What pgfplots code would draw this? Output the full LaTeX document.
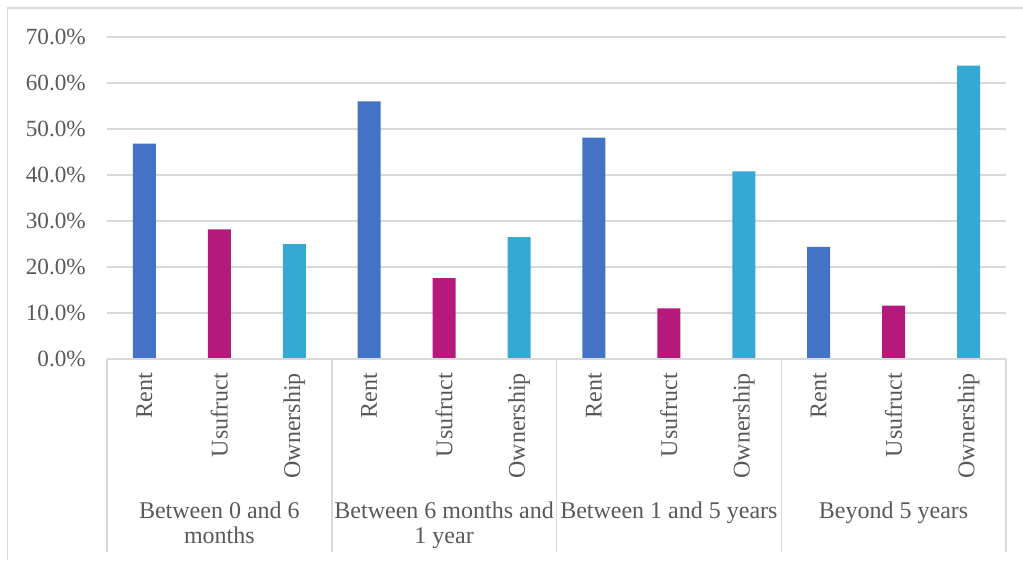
\documentclass[border=0pt]{standalone}
\usepackage{pgfplots}
\pgfplotsset{compat=1.18}
\usepackage{fontspec}
\setmainfont{Liberation Serif}
\definecolor{rentc}{RGB}{68,114,196}
\definecolor{usuc}{RGB}{181,25,123}
\definecolor{ownc}{RGB}{53,169,212}
\definecolor{gridc}{RGB}{217,217,217}
\definecolor{txtc}{RGB}{89,89,89}
\begin{document}
\begin{tikzpicture}
\useasboundingbox (-107pt,-201pt) rectangle (916pt,359pt);
\draw[gridc, line width=1.5pt] (-99.5pt,-201pt) -- (-99.5pt,351pt) -- (916pt,351pt);
\begin{axis}[
  at={(0pt,0pt)}, anchor=south west,
  scale only axis, width=899pt, height=322pt,
  xmin=-0.5, xmax=11.5, ymin=0, ymax=70,
  ybar, bar width=23pt, bar shift=0pt,
  axis line style={draw=none},
  tick style={draw=none},
  major tick length=0pt,
  ymajorgrids, grid style={color=gridc, line width=1.5pt},
  ytick={0,10,...,70},
  yticklabel={\pgfmathprintnumber[fixed,fixed zerofill,precision=1]{\tick}\%},
  /pgf/number format/assume math mode=true,
  yticklabel style={anchor=east, inner sep=0pt, xshift=-21pt, font=\fontsize{23.2}{27}\selectfont, text=txtc},
  xtick={0,...,11},
  xticklabels={Rent,Usufruct,Ownership,Rent,Usufruct,Ownership,Rent,Usufruct,Ownership,Rent,Usufruct,Ownership},
  xticklabel style={rotate=90, anchor=east, inner sep=0pt, xshift=-14pt, font=\fontsize{24}{28}\selectfont, text=txtc},
  clip=false,
]
\addplot[draw=none, fill=rentc] coordinates {(0,46.8) (3,56.0) (6,48.1) (9,24.4)};
\addplot[draw=none, fill=usuc] coordinates {(1,28.2) (4,17.6) (7,11.0) (10,11.6)};
\addplot[draw=none, fill=ownc] coordinates {(2,25.0) (5,26.5) (8,40.8) (11,63.8)};
\draw[gridc, line width=1.5pt] (axis cs:-0.5,0) -- (axis cs:11.5,0);
\pgfplotsinvokeforeach{-0.5,2.5,5.5,8.5,11.5}{
  \draw[gridc, line width=1.5pt] (axis cs:#1,0) -- ([yshift=-193pt]axis cs:#1,0);
}
\begin{scope}[every node/.style={anchor=base, inner sep=0pt, font=\fontsize{24}{28}\selectfont, text=txtc}]
\node at ([yshift=-159pt]axis cs:1,0) {Between 0 and 6};
\node at ([yshift=-184pt]axis cs:1,0) {months};
\node at ([yshift=-159pt]axis cs:4,0) {Between 6 months and};
\node at ([yshift=-184pt]axis cs:4,0) {1 year};
\node at ([yshift=-159pt]axis cs:7,0) {Between 1 and 5 years};
\node at ([yshift=-159pt]axis cs:10,0) {Beyond 5 years};
\end{scope}
\end{axis}
\end{tikzpicture}
\end{document}
